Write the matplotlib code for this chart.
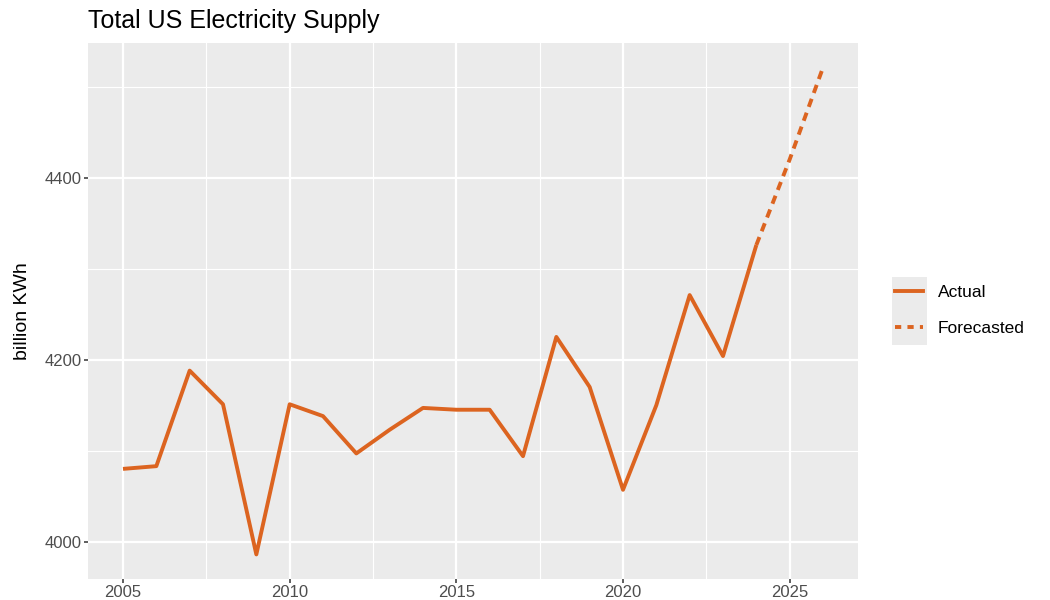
import matplotlib
matplotlib.use("Agg")
import matplotlib.pyplot as plt
from matplotlib.lines import Line2D
from matplotlib.patches import Rectangle

# data
years_actual = [2005, 2006, 2007, 2008, 2009, 2010, 2011, 2012, 2013, 2014,
                2015, 2016, 2017, 2018, 2019, 2020, 2021, 2022, 2023, 2024]
supply_actual = [4080, 4083, 4188, 4151, 3986, 4151, 4138, 4097, 4123, 4147,
                 4145, 4145, 4094, 4225, 4170, 4057, 4150, 4271, 4204, 4326]
years_fc = [2024, 2025, 2026]
supply_fc = [4326, 4420, 4521]

x_ticks = [2005, 2010, 2015, 2020, 2025]
x_minor = [2007.5, 2012.5, 2017.5, 2022.5]
y_ticks = [4000, 4200, 4400]
y_minor = [4100, 4300, 4500]

COL = '#DC6420'
plt.rcParams['font.family'] = ['Liberation Sans', 'DejaVu Sans']

W, H = 1050, 600
fig = plt.figure(figsize=(W / 100, H / 100), dpi=100)
ax = fig.add_axes([88 / W, 21 / H, (858 - 88) / W, (579 - 43) / H])
ax.set_facecolor('#EBEBEB')
for s in ax.spines.values():
    s.set_visible(False)

ax.plot(years_actual, supply_actual, color=COL, lw=2.8, solid_capstyle='butt', zorder=3)
ax.plot(years_fc, supply_fc, color=COL, lw=2.8, dashes=(2.2, 1.6), zorder=3)

ax.set_xlim(2003.95, 2027.05)
ax.set_ylim(3959, 4548)
ax.set_xticks(x_ticks)
ax.set_xticks(x_minor, minor=True)
ax.set_yticks(y_ticks)
ax.set_yticks(y_minor, minor=True)
ax.grid(which='major', color='white', lw=1.6)
ax.grid(which='minor', color='white', lw=0.8)
ax.set_axisbelow(True)
ax.tick_params(which='major', length=3, width=1.1, color='#333333',
               labelcolor='#4D4D4D', labelsize=12, pad=1.5)
ax.tick_params(which='minor', length=0)

ax.set_ylabel('billion KWh', fontsize=14, color='black', labelpad=10)
fig.text(88 / W, 1 - 28 / H, 'Total US Electricity Supply', fontsize=18,
         ha='left', va='baseline')

# legend
fig.patches.append(Rectangle((892 / W, 1 - 345 / H), 35 / W, 68 / H,
                             transform=fig.transFigure, facecolor='#EBEBEB',
                             edgecolor='none'))
handles = [Line2D([], [], color=COL, lw=2.8),
           Line2D([], [], color=COL, lw=2.8, dashes=(1.6, 1.6))]
fig.legend(handles, ['Actual', 'Forecasted'], loc='upper left',
           bbox_to_anchor=(895 / W, 1 - 285 / H), frameon=False, fontsize=12.5,
           handlelength=1.6, handletextpad=0.85, labelspacing=1.2,
           borderpad=0, borderaxespad=0)

fig.savefig('out.png', dpi=100)
